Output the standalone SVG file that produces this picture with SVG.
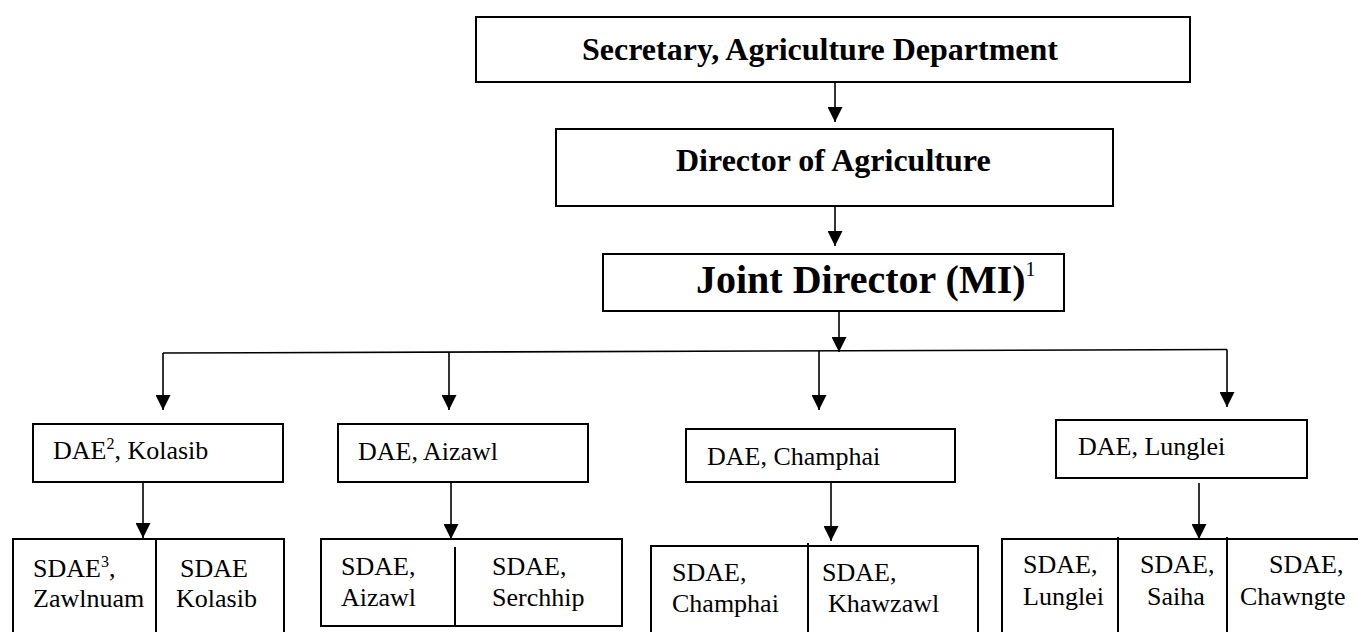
<svg xmlns="http://www.w3.org/2000/svg" width="1358" height="632" viewBox="0 0 1358 632">
<style>
.box{fill:#fff;stroke:#000;stroke-width:2}
.div{stroke:#000;stroke-width:2;fill:none}
.ln{stroke:#000;stroke-width:1.6;fill:none}
.b{font-family:"Liberation Serif","Times New Roman",serif;font-weight:bold;font-size:32px;fill:#000}
.t{font-family:"Liberation Serif","Times New Roman",serif;font-size:26px;fill:#000}
</style>
<defs>
<marker id="ah" markerUnits="userSpaceOnUse" markerWidth="16" markerHeight="15" refX="15" refY="7.5" orient="auto">
<path d="M0,0 L15,7.5 L0,15 z" fill="#000"/>
</marker>
</defs>
<rect width="1358" height="632" fill="#fff"/>
<g id="connectors">
<line class="ln" x1="835" y1="82" x2="835" y2="122" marker-end="url(#ah)"/>
<line class="ln" x1="835" y1="206" x2="835" y2="246" marker-end="url(#ah)"/>
<line class="ln" x1="839" y1="311" x2="839" y2="352" marker-end="url(#ah)"/>
<polyline class="ln" points="163,353 1227,349.5"/>
<line class="ln" x1="163" y1="353" x2="163" y2="410" marker-end="url(#ah)"/>
<line class="ln" x1="449" y1="352" x2="449" y2="410" marker-end="url(#ah)"/>
<line class="ln" x1="819" y1="351" x2="819" y2="410" marker-end="url(#ah)"/>
<line class="ln" x1="1227" y1="349.5" x2="1227" y2="407" marker-end="url(#ah)"/>
<line class="ln" x1="143" y1="482" x2="143" y2="538" marker-end="url(#ah)"/>
<line class="ln" x1="451" y1="482" x2="451" y2="539" marker-end="url(#ah)"/>
<line class="ln" x1="831" y1="482" x2="831" y2="541" marker-end="url(#ah)"/>
<line class="ln" x1="1199" y1="483" x2="1199" y2="539" marker-end="url(#ah)"/>
</g>
<g id="secretary">
<rect class="box" x="476" y="17" width="714" height="65"/>
<text class="b" x="582" y="60">Secretary, Agriculture Department</text>
</g>
<g id="director">
<rect class="box" x="556" y="129" width="557" height="77"/>
<text class="b" x="676" y="171">Director of Agriculture</text>
</g>
<g id="joint-director">
<rect class="box" x="603" y="254" width="461" height="57"/>
<text class="b" x="696" y="293" style="font-size:40px">Joint Director (MI)<tspan style="font-weight:normal;font-size:20px" dy="-17">1</tspan></text>
</g>
<g id="dae-kolasib">
<rect class="box" x="33" y="424" width="250" height="58"/>
<text class="t" x="53" y="459">DAE<tspan style="font-size:16px" dy="-10">2</tspan><tspan dy="10">, Kolasib</tspan></text>
</g>
<g id="dae-aizawl">
<rect class="box" x="338" y="424" width="250" height="58"/>
<text class="t" x="358" y="460">DAE, Aizawl</text>
</g>
<g id="dae-champhai">
<rect class="box" x="686" y="429" width="269" height="53"/>
<text class="t" x="707" y="465">DAE, Champhai</text>
</g>
<g id="dae-lunglei">
<rect class="box" x="1056" y="420" width="251" height="58"/>
<text class="t" x="1078" y="455">DAE, Lunglei</text>
</g>
<g id="sdae-kolasib">
<rect class="box" x="13" y="539" width="271" height="110"/>
<line class="div" x1="156" y1="539" x2="156" y2="640"/>
<text class="t" x="33" y="577">SDAE<tspan style="font-size:16px" dy="-10">3</tspan><tspan dy="10">,</tspan></text>
<text class="t" x="33" y="607">Zawlnuam</text>
<text class="t" x="180" y="577">SDAE</text>
<text class="t" x="176" y="607">Kolasib</text>
</g>
<g id="sdae-aizawl">
<rect class="box" x="321" y="539" width="301" height="87"/>
<line class="div" x1="455" y1="547" x2="455" y2="626"/>
<text class="t" x="341" y="575">SDAE,</text>
<text class="t" x="341" y="606">Aizawl</text>
<text class="t" x="492" y="575">SDAE,</text>
<text class="t" x="492" y="606">Serchhip</text>
</g>
<g id="sdae-champhai">
<rect class="box" x="651" y="546" width="327" height="110"/>
<line class="div" x1="808" y1="543" x2="808" y2="640"/>
<text class="t" x="672" y="581">SDAE,</text>
<text class="t" x="672" y="612">Champhai</text>
<text class="t" x="822" y="581">SDAE,</text>
<text class="t" x="828" y="612">Khawzawl</text>
</g>
<g id="sdae-lunglei">
<rect class="box" x="1002" y="539" width="370" height="110"/>
<line class="div" x1="1118" y1="537" x2="1118" y2="640"/>
<line class="div" x1="1227" y1="537" x2="1227" y2="640"/>
<text class="t" x="1023" y="573">SDAE,</text>
<text class="t" x="1023" y="605">Lunglei</text>
<text class="t" x="1140" y="573">SDAE,</text>
<text class="t" x="1147" y="605">Saiha</text>
<text class="t" x="1269" y="573">SDAE,</text>
<text class="t" x="1240" y="605">Chawngte</text>
</g>
</svg>
